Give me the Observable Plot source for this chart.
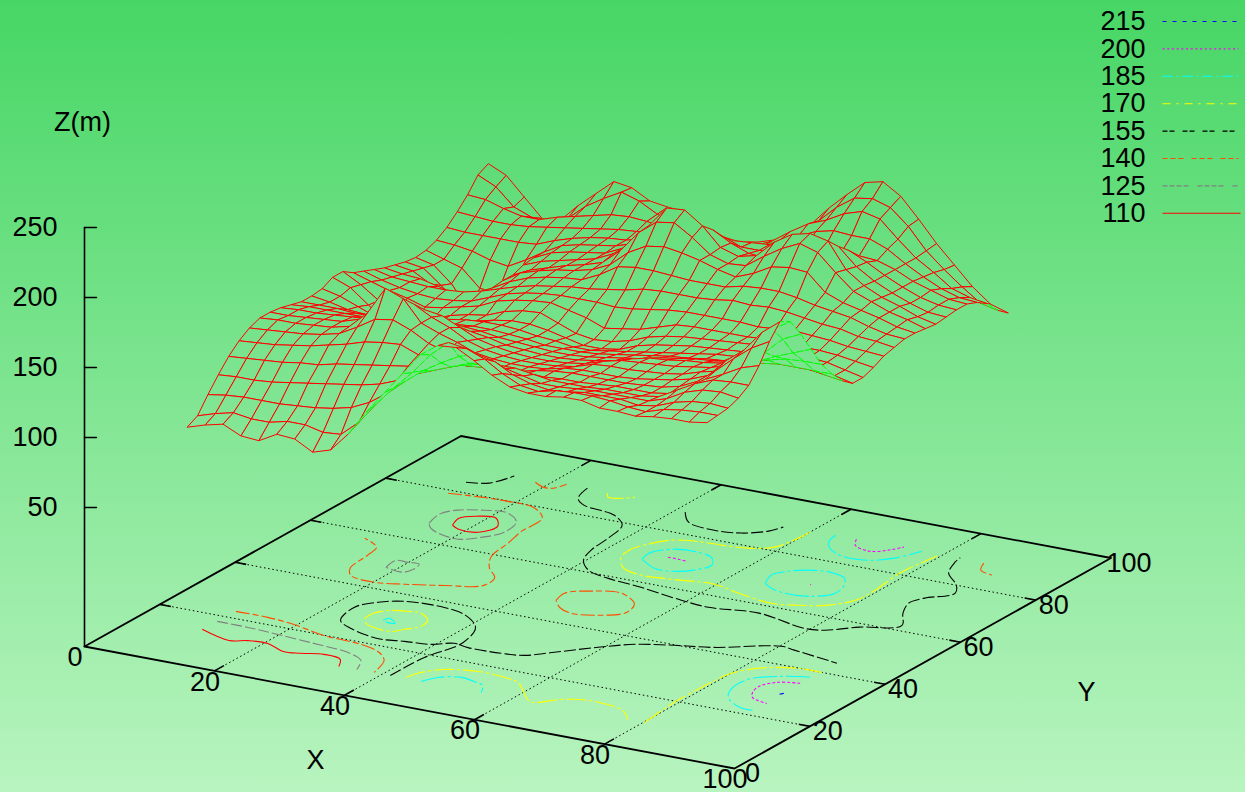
<!DOCTYPE html>
<html>
<head>
<meta charset="utf-8">
<style>html,body{margin:0;padding:0;background:#80e090;overflow:hidden}svg{display:block}</style>
<script src="https://cdn.jsdelivr.net/npm/d3@7"></script>
<script src="https://cdn.jsdelivr.net/npm/@observablehq/plot@0.6"></script>
</head>
<body>
<div id="chart"></div>
<script>
// ---- Data ----
const gridX0 = 10, gridStep = 80 / 29;
// Z(m) on a 30x30 grid; one row per Y, one value per X
const surfaceZ = [
[101,105,108,102,101,108,107,100,104,118,136,152,168,184,193,194,187,179,173,171,171,173,173,170,170,169,171,172,172,174],
[105,109,112,110,110,113,113,110,111,122,138,152,165,180,191,189,184,176,170,168,171,172,172,171,169,168,172,174,175,175],
[116,118,119,119,119,120,121,123,126,132,141,152,162,170,177,181,178,171,167,165,166,168,168,168,166,168,173,176,177,176],
[126,127,127,128,130,132,134,136,138,141,146,153,158,163,168,170,169,166,163,163,164,165,165,165,165,169,176,180,181,179],
[135,136,137,138,140,141,144,146,148,150,152,154,157,160,163,165,165,163,161,161,161,162,162,162,164,171,178,183,184,184],
[142,143,144,146,148,151,154,158,160,161,156,154,154,155,156,158,157,157,158,158,159,160,160,160,162,168,177,183,190,194],
[147,148,149,150,152,155,162,170,172,167,160,156,153,152,152,152,155,157,158,158,158,158,159,160,163,169,179,190,200,207],
[150,151,151,152,153,156,168,188,183,168,163,159,154,152,151,151,152,155,156,156,156,157,159,161,164,169,182,192,207,217],
[150,150,151,152,153,157,168,176,175,168,163,156,152,150,149,149,150,152,156,157,157,158,159,161,165,168,178,192,205,213],
[149,150,150,151,152,153,158,163,167,165,159,153,150,148,147,147,148,150,154,157,158,159,160,162,164,168,175,182,194,200],
[147,148,148,148,148,149,151,154,156,155,152,150,147,146,145,145,146,148,150,154,157,158,160,161,163,165,169,175,180,185],
[145,145,145,144,144,145,146,148,149,149,148,146,145,144,143,143,144,146,148,150,153,155,157,158,160,163,166,169,170,170],
[145,143,140,139,139,140,141,143,144,145,145,144,143,141,141,141,142,144,146,148,150,151,153,154,156,157,159,159,159,159],
[146,143,138,133,130,133,137,141,143,144,144,143,141,140,138,138,140,142,144,146,148,150,152,153,154,155,155,154,152,150],
[150,145,135,125,122,129,133,136,138,141,143,143,141,138,135,135,137,142,145,147,149,150,151,152,152,152,151,150,147,144],
[150,143,134,125,124,128,133,136,138,143,146,147,142,137,135,136,139,144,147,149,150,151,152,153,153,152,151,150,147,144],
[145,141,137,134,130,132,135,138,144,147,149,150,147,144,139,141,143,147,151,152,152,152,152,153,153,152,152,151,149,147],
[142,138,135,133,132,133,135,140,145,148,150,151,151,151,150,151,153,155,156,156,156,156,155,156,157,156,155,153,152,151],
[139,136,135,134,134,135,138,142,146,149,151,153,154,156,158,161,162,162,162,163,165,164,165,164,162,160,159,156,155,153],
[136,134,133,130,127,130,136,143,148,151,153,154,160,168,170,170,169,168,168,168,171,172,172,170,167,165,163,159,156,155],
[134,132,125,118,116,126,137,145,149,152,154,157,163,174,181,183,181,178,174,171,176,183,185,184,172,167,164,161,157,155],
[132,130,120,107,105,120,137,143,147,151,154,158,169,184,194,196,188,178,174,175,184,192,198,194,182,171,166,161,158,154],
[131,128,117,100,100,123,140,145,148,151,154,160,170,185,200,201,192,179,175,178,190,198,201,198,180,171,165,161,156,153],
[132,128,124,112,111,123,141,147,150,152,154,160,169,178,187,187,185,178,173,172,183,190,192,190,178,170,164,159,155,154],
[135,134,132,128,126,133,141,148,151,153,155,159,163,167,174,177,176,171,171,172,176,183,185,183,177,170,164,159,156,155],
[140,139,139,139,139,140,145,149,152,154,155,158,160,163,168,169,169,170,171,172,173,174,175,175,174,170,164,160,156,155],
[147,146,145,145,146,148,150,152,154,156,157,158,158,158,160,160,160,163,170,175,181,184,183,183,178,170,163,157,153,152],
[155,154,150,147,147,151,154,157,160,161,160,158,156,154,153,154,157,163,172,180,185,192,196,193,181,170,162,153,149,147],
[165,159,147,142,140,146,157,165,172,168,161,156,153,150,149,149,151,158,169,178,190,199,201,197,186,171,160,150,141,138],
[169,163,150,137,138,151,162,173,171,164,162,161,151,148,147,149,153,160,169,183,195,206,209,201,187,172,159,146,136,132]
];

// Contours on the base plane, as [X, Y]
const contour110 = [
 [[10,14],[15.4,11.8],[17.6,13],[20.5,13.3],[23.9,11.5],[26.3,12],[29.2,13.2],[32.1,12.5],[33.4,9.9]],
 [[17.4,67.7],[16.7,70.6],[18.3,72.5],[21,73.1],[22.8,70.4],[21.8,66.9],[18.9,66.7],[17.4,67.7]]
];
const contour125 = [
 [[10.1,17.8],[14.9,17.7],[19.8,17.2],[26.5,16.3],[31.5,15.5],[34.7,13.5],[36.1,10]],
 [[14.3,66.8],[13.6,70.7],[14.9,73.4],[17.9,75.1],[21.3,75.7],[24.1,73.1],[24.8,68.7],[23.2,65.3],[20.9,63.1],[17.5,63.9],[15.5,65.2],[14.3,66.8]],
 [[18.4,48.3],[18.1,51.4],[19.9,51.5],[21.6,51.6],[22,49.4],[21.4,47.7],[19.4,47.9],[18.4,48.3]]
];
const contour140 = [
 [[10.2,22.6],[15.1,22.6],[19.6,21.8],[25.3,19.9],[31.4,19.2],[35.1,17.6],[37.4,15],[38.7,10.1]],
 [[10.3,78.8],[14.9,79.6],[18.9,79.9],[23.3,79.3],[26.3,76.2],[26.6,70.2],[27.5,65],[28.4,58.9],[30.5,54.9],[33,52],[33.4,48.4],[28.8,45.7],[24,43.5],[20.1,42.2],[16,43.1],[14.5,45.5],[13.8,51.4],[13.2,54.8],[10,57.2]],
 [[18.1,88.5],[20,87.3],[21.4,87.6],[22.1,89.9]],
 [[86.4,89.7],[87.5,87],[89.8,86]],
 [[44.8,47.9],[44.3,51],[46.9,53.5],[50.9,54.8],[54.6,51.8],[55.4,48.3],[52.7,45.4],[49.2,44.3],[46.7,45.6],[44.8,47.9]]
];
const contour155 = [
 [[10.1,83.9],[12.9,85.1],[14.4,89.3]],
 [[41.2,10.1],[41.4,18.8],[42.8,26.7],[41.1,32.9],[37.5,36.5],[33.4,37.9],[27.5,37.4],[24.7,35.3],[23,31.9],[24.1,26.4],[27,24.2],[32.1,22.4],[35.8,23.2],[39.5,23.9],[41.9,25.8],[44.4,25.2],[49.4,25.4],[52.5,26.2],[55.3,29.3],[59.3,34],[62.9,37.5],[67.7,39.8],[72.7,41.7],[80.2,46.6],[82.5,46.1],[90.1,44.3]],
 [[25.3,89.9],[26.3,85.7],[28.4,83.6],[33.9,82.1],[36.9,79.1],[38,73.5],[38.5,68.1],[39.7,64],[42.3,60.8],[46.3,59.2],[51.9,58.2],[59.2,56.3],[63.8,55.6],[70.8,56.9],[79.2,54.5],[81.9,55.2],[85.2,58.6],[89.8,62.1],[87.4,66.5],[86,70.4],[86.8,73.3],[89.3,77.1],[87.8,80],[84.4,83.8],[82.9,88.1],[82.6,90]],
 [[41.5,87.9],[43.9,84.6],[48.6,83.4],[52.3,84.2],[55,86.7],[55.9,89.1]]
];
const contour170 = [
 [[26.5,28.7],[26.4,31.1],[27.9,33.3],[30,34.1],[31.9,34.3],[34.1,32.3],[34.6,29.6],[33.3,27.5],[32.2,25.8],[29.3,26.1],[27.4,27.3],[26.5,28.7]],
 [[28.6,89.5],[29.5,88.1],[31.5,88.7],[32.6,89.9]],
 [[60,89.1],[59.9,86.2],[59,81.4],[56.2,79.3],[52.5,78.6],[48.5,78.2],[45.7,77],[43.8,74],[42.9,70.6],[43.4,67.6],[45.7,64.1],[48.9,62.6],[53.8,63.1],[59.7,64.2],[64.4,62.6],[70.2,61.2],[73.7,62.3],[77.2,64.4],[79.4,68.5],[79.4,73.8],[78.8,80],[79.1,85],[79.6,89.1]],
 [[43.4,10.5],[44.1,13.2],[46.1,15.8],[50.5,17.4],[55.4,16.9],[57.6,15.9],[62.2,10.5],[63.3,10.1],[65.8,13],[69.1,14.5],[73.4,14],[75.5,12.9],[77.6,10.3]],
 [[80.2,10.3],[79.6,16.7],[79.4,21.4],[79.5,26.6],[79.9,33.1],[82.1,37.3],[86.7,39.9],[90.3,40]]
];
const contour185 = [
 [[29,29.3],[29.3,30.4],[31,29],[29.9,28.8],[29,29.3]],
 [[46.2,68.3],[45.8,70.9],[47.9,74],[51.3,74.5],[54.1,73.3],[55.5,70.8],[54.8,68.4],[52.4,66.1],[49.5,65.9],[46.2,68.3]],
 [[65.4,67.9],[64.4,71.2],[65.6,73.8],[67.7,75.5],[70.5,76.2],[73.5,75],[74.9,72.5],[75.5,69.1],[73.1,66.2],[69.7,65.7],[67.1,66.6],[65.4,67.9]],
 [[63.6,89.7],[64.2,86.8],[65.6,84.7],[68.6,82.7],[72.5,83],[75.1,85.5],[76.8,89.8]],
 [[46,10],[47.1,12.6],[49.8,14.2],[52.5,13.4],[53.9,12.7],[55.2,10.1]],
 [[89.9,37.5],[86.4,35.9],[83.2,32.6],[83.2,28.3],[84.6,24.9],[88,22.1],[90.1,21.9]]
];
const contour200 = [
 [[48.8,70.7],[50.4,70.7],[51.8,70.5]],
 [[70.8,70.6],[71,70.3]],
 [[66.8,89.7],[67.9,87.5],[70.8,86.3],[72.8,88],[73.9,90.1]],
 [[90,34.7],[87.3,33.6],[85.9,30.9],[86.4,28.3],[87.4,26.5],[90.3,25.3]]
];
const contour215 = [
 [[89.9,29.4],[90.2,30]]
];

const levels = [215, 200, 185, 170, 155, 140, 125, 110];
const levelContours = [contour215, contour200, contour185, contour170, contour155, contour140, contour125, contour110];
const levelColors = ["#0000ff", "#ff00ff", "#00ffff", "#ffff00", "#000000", "#ff4d00", "#808080", "#ff0000"];
// legend samples show the full pattern; the many short segments of a contour read as longer dashes
const levelDashes = ["4,6", "2,2.7", "10,4,2,4", "8,6,2,6", "5,2,5,8", "5,3,5,3,5,8", "5,2,5,2,5,2,5,9", "none"];
const contourDashes = ["none", "3,2", "24,3,3,3", "20,3,3,3", "12,3", "14,3,6,3", "11,3", "none"];

const xTicks = [0, 20, 40, 60, 80, 100];
const yTicks = [0, 20, 40, 60, 80, 100];
const zTicks = [250, 200, 150, 100, 50];
const gridTicks = [20, 40, 60, 80];

// ---- Projection of (X, Y, Z) onto the picture ----
const baseZ = -49.3;
const px = (X, Y) => 84 + 6.5 * X + 3.765 * Y;
const py = (X, Y, Z = baseZ) => 646 + 1.22 * X - 2.105 * Y - 1.4 * (Z - baseZ);
const pt = (X, Y, Z, id) => ({x: px(X, Y), y: py(X, Y, Z), id});
const nodeX = (i) => gridX0 + i * gridStep;

// ---- Surface quads, back to front ----
const runs = [];
for (let j = surfaceZ.length - 2; j >= 0; --j) {
  for (let i = 0; i < surfaceZ[0].length - 1; ++i) {
    const id = j * 100 + i;
    const c = [[i, j], [i + 1, j], [i + 1, j + 1], [i, j + 1], [i, j]]
      .map(([a, b]) => pt(nodeX(a), nodeX(b), surfaceZ[b][a], id));
    const area = d3.sum(c.slice(0, 4), (p, k) => p.x * c[k + 1].y - c[k + 1].x * p.y);
    const under = area > 0;
    const last = runs[runs.length - 1];
    if (last && last.under === under) last.pts.push(...c);
    else runs.push({under, pts: c});
  }
}
const surfaceMarks = runs.map((r) => Plot.line(r.pts, {
  x: "x", y: "y", z: "id",
  stroke: r.under ? "#00ff00" : "#ff0000",
  strokeDasharray: r.under ? "7,2" : "none",
  strokeWidth: 1, fill: "url(#pageGradient)", strokeLinecap: "butt"
}));

// ---- Base plane ----
const gridLines = [];
const tickLines = [];
for (const v of gridTicks) {
  gridLines.push(pt(v, 0, baseZ, "x" + v), pt(v, 100, baseZ, "x" + v));
  gridLines.push(pt(0, v, baseZ, "y" + v), pt(100, v, baseZ, "y" + v));
  tickLines.push(pt(v, 0, baseZ, "xa" + v), pt(v, 2.5, baseZ, "xa" + v));
  tickLines.push(pt(v, 100, baseZ, "xb" + v), pt(v, 97.5, baseZ, "xb" + v));
  tickLines.push(pt(0, v, baseZ, "ya" + v), pt(1.7, v, baseZ, "ya" + v));
  tickLines.push(pt(100, v, baseZ, "yb" + v), pt(98.3, v, baseZ, "yb" + v));
}
const boxLines = [[0, 0], [100, 0], [100, 100], [0, 100], [0, 0]].map(([a, b]) => pt(a, b, baseZ, "box"));
const zAxis = [pt(0, 0, baseZ, "axis"), pt(0, 0, 250, "axis")];
const zTickLines = zTicks.flatMap((z) => [{x: px(0, 0), y: py(0, 0, z), id: z}, {x: px(0, 0) + 12, y: py(0, 0, z), id: z}]);

const contourMarks = levels.map((lev, k) => Plot.line(
  levelContours[k].flatMap((c, n) => c.map(([X, Y]) => pt(X, Y, baseZ, n))),
  {x: "x", y: "y", z: "id", stroke: levelColors[k], strokeDasharray: contourDashes[k], strokeWidth: 1.1, strokeLinecap: "butt", curve: "catmull-rom"}
));

// ---- Legend ----
const legendY = (k) => 21 + k * 27.4;
const legendLines = levels.flatMap((lev, k) => [{x: 1162, y: legendY(k), lev}, {x: lev === 110 ? 1240 : 1238, y: legendY(k), lev}]);
const legendMarks = levels.map((lev, k) => Plot.line(legendLines.filter((d) => d.lev === lev), {
  x: "x", y: "y", stroke: levelColors[k], strokeDasharray: levelDashes[k], strokeWidth: 1.1, strokeLinecap: "butt"
}));

const font = {fontFamily: "'Liberation Sans', Arial, sans-serif", fontSize: 27, fill: "#000", lineAnchor: "middle", stroke: "none"};

function background(index, scales, values, dims) {
  const g = d3.create("svg:g");
  const grad = g.append("defs").append("linearGradient")
    .attr("id", "pageGradient").attr("gradientUnits", "userSpaceOnUse")
    .attr("x1", 0).attr("y1", 0).attr("x2", 0).attr("y2", dims.height);
  grad.append("stop").attr("offset", 0).attr("stop-color", "#47d665");
  grad.append("stop").attr("offset", 1).attr("stop-color", "#b8f4bf");
  g.append("rect").attr("width", dims.width).attr("height", dims.height).attr("fill", "url(#pageGradient)");
  return g.node();
}

const chart = Plot.plot({
  width: 1245, height: 792, margin: 0,
  style: {background: "none"},
  x: {domain: [0, 1245], range: [0, 1245], axis: null},
  y: {domain: [0, 792], range: [0, 792], axis: null},
  marks: [
    background,
    Plot.line(gridLines, {x: "x", y: "y", z: "id", stroke: "#000", strokeWidth: 1, strokeDasharray: "1.5,2.7", strokeLinecap: "butt"}),
    Plot.line(tickLines, {x: "x", y: "y", z: "id", stroke: "#000", strokeWidth: 1.6, strokeLinecap: "butt"}),
    ...contourMarks,
    Plot.line(boxLines, {x: "x", y: "y", stroke: "#000", strokeWidth: 1.8}),
    Plot.line(zAxis, {x: "x", y: "y", stroke: "#000", strokeWidth: 1.6}),
    Plot.line(zTickLines, {x: "x", y: "y", z: "id", stroke: "#000", strokeWidth: 1.4}),
    ...surfaceMarks,
    // tick labels
    Plot.text(xTicks, {x: (d) => px(d, 0), y: (d) => py(d, 0), text: String, dx: -9.5, dy: 11, ...font}),
    Plot.text(yTicks, {x: (d) => px(100, d), y: (d) => py(100, d), text: String, dx: 18, dy: 5, ...font}),
    Plot.text(zTicks, {x: () => px(0, 0) - 27, y: (d) => py(0, 0, d), text: String, textAnchor: "end", ...font}),
    // axis titles
    Plot.text(["Z(m)"], {x: () => 82, y: () => 122, text: (d) => d, ...font}),
    Plot.text(["X"], {x: () => 315, y: () => 760, text: (d) => d, ...font}),
    Plot.text(["Y"], {x: () => 1086, y: () => 692, text: (d) => d, ...font}),
    // legend
    Plot.text(levels, {x: () => 1145, y: (d, k) => legendY(k), text: String, textAnchor: "end", ...font}),
    ...legendMarks
  ]
});
document.getElementById("chart").appendChild(chart);
</script>
</body>
</html>
